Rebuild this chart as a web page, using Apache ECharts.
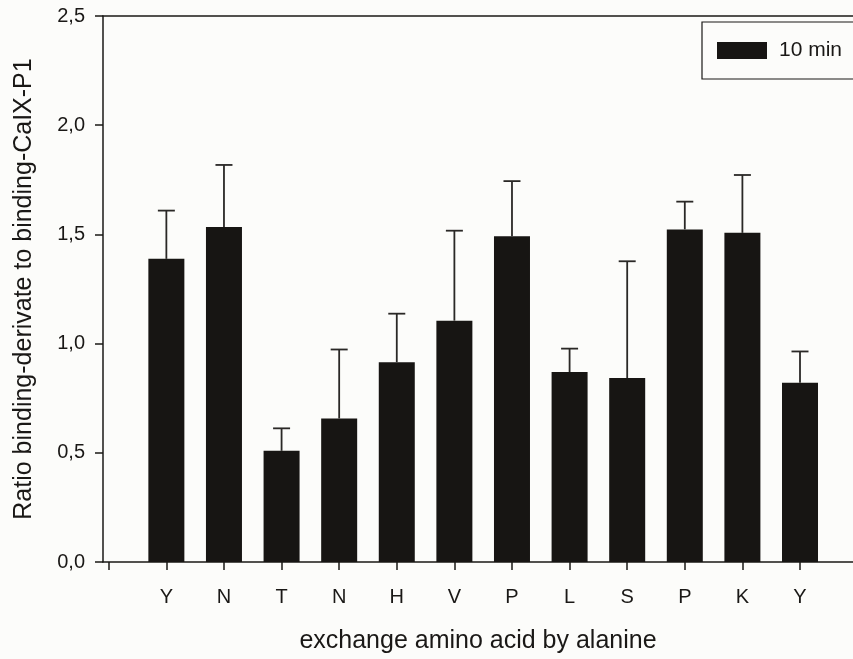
<!DOCTYPE html>
<html>
<head>
<meta charset="utf-8">
<script src="https://cdn.jsdelivr.net/npm/echarts@6/dist/echarts.min.js"></script>
<style>
  html, body { margin: 0; padding: 0; background: #fcfcfa; }
  #chart { width: 853px; height: 659px; }
</style>
</head>
<body>
<div id="chart"></div>
<script>
// Residues replaced by alanine, in sequence order
const categories = ['Y', 'N', 'T', 'N', 'H', 'V', 'P', 'L', 'S', 'P', 'K', 'Y'];
// Mean ratio after 10 min
const ratio10min = [1.388, 1.534, 0.509, 0.657, 0.915, 1.105, 1.491, 0.870, 0.842, 1.523, 1.507, 0.821];
// Upper end of the error bar (mean + SD)
const errorTop = [1.609, 1.818, 0.612, 0.973, 1.137, 1.517, 1.744, 0.977, 1.377, 1.650, 1.772, 0.964];
// Value-axis tick labels
const yTicks = [0, 0.5, 1.0, 1.5, 2.0, 2.5];

const positions = categories.map((c, i) => i + 1);
const tickPositions = [0].concat(positions);

const ink = '#1a1816';
const font = '"Liberation Sans", Arial, sans-serif';

const chart = echarts.init(document.getElementById('chart'), null, { renderer: 'canvas' });

const xMin = -0.1;
const xMax = 12.92;

chart.setOption({
  backgroundColor: '#fcfcfa',
  animation: false,
  textStyle: { fontFamily: font, color: ink },
  grid: { left: 103, right: 0, top: 16, bottom: 96 },
  legend: {
    data: [{ name: '10 min', icon: 'rect' }],
    left: 702,
    top: 22,
    orient: 'horizontal',
    itemWidth: 50,
    itemHeight: 17,
    padding: [18, 40, 18, 15],
    borderColor: ink,
    borderWidth: 1.2,
    textStyle: { fontSize: 21, color: ink, fontFamily: font, padding: [0, 0, 0, 7] }
  },
  xAxis: [
    {
      type: 'value',
      min: xMin,
      max: xMax,
      position: 'bottom',
      name: 'exchange amino acid by alanine',
      nameLocation: 'middle',
      nameGap: 67,
      nameTextStyle: { fontSize: 25, color: ink, fontFamily: font },
      axisLine: { show: true, onZero: false, lineStyle: { color: ink, width: 1.5 } },
      axisTick: {
        show: true, inside: false, length: 8,
        customValues: tickPositions,
        lineStyle: { color: ink, width: 1.5 }
      },
      axisLabel: {
        show: true, margin: 25, fontSize: 20, color: ink, fontFamily: font,
        customValues: positions,
        formatter: v => categories[Math.round(v) - 1] || ''
      },
      splitLine: { show: false }
    },
    {
      type: 'value',
      min: xMin,
      max: xMax,
      position: 'top',
      axisLine: { show: true, onZero: false, lineStyle: { color: ink, width: 1.5 } },
      axisTick: { show: false },
      axisLabel: { show: false },
      splitLine: { show: false }
    }
  ],
  yAxis: {
    type: 'value',
    min: yTicks[0],
    max: yTicks[yTicks.length - 1],
    interval: 0.5,
    name: 'Ratio binding-derivate to binding-CaIX-P1',
    nameLocation: 'middle',
    nameGap: 66,
    nameTextStyle: { fontSize: 25, color: ink, fontFamily: font },
    axisLine: { show: true, onZero: false, lineStyle: { color: ink, width: 1.5 } },
    axisTick: { show: true, inside: false, length: 8, lineStyle: { color: ink, width: 1.5 } },
    axisLabel: {
      margin: 18, fontSize: 20, color: ink, fontFamily: font,
      formatter: v => v.toFixed(1).replace('.', ',')
    },
    splitLine: { show: false }
  },
  series: [
    {
      name: '10 min',
      type: 'bar',
      xAxisIndex: 0,
      barWidth: 36,
      itemStyle: { color: '#171513' },
      data: positions.map((x, i) => [x, ratio10min[i]]),
      z: 2
    },
    {
      name: 'error',
      type: 'custom',
      xAxisIndex: 0,
      z: 3,
      data: positions.map((x, i) => [x, ratio10min[i], errorTop[i]]),
      renderItem: function (params, api) {
        const x = api.value(0);
        const base = api.coord([x, api.value(1)]);
        const top = api.coord([x, api.value(2)]);
        const half = 8.5;
        const style = { stroke: '#2a2826', lineWidth: 1.8, fill: null };
        return {
          type: 'group',
          children: [
            { type: 'line', shape: { x1: top[0], y1: base[1], x2: top[0], y2: top[1] }, style: style },
            { type: 'line', shape: { x1: top[0] - half, y1: top[1], x2: top[0] + half, y2: top[1] }, style: style }
          ]
        };
      }
    }
  ]
});
</script>
</body>
</html>
